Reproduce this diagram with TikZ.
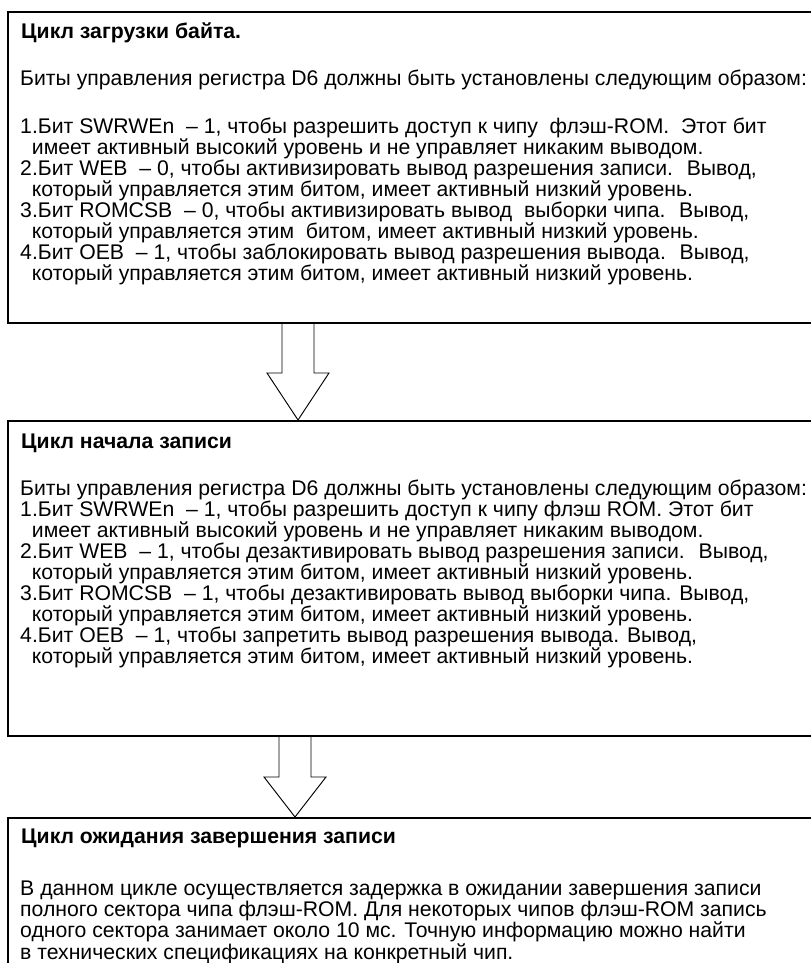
\documentclass[tikz,border=0pt]{standalone}
\usepackage{fontspec}
\setmainfont{Liberation Sans}
\usetikzlibrary{calc}
\tikzset{
  frame/.style={draw, line width=1.3pt, anchor=north west, minimum width=25cm},
  txt/.style={anchor=base west, align=left, inner sep=0pt, font=\fontsize{18.1}{18}\selectfont},
  headtxt/.style={txt, font=\fontsize{18.1}{18}\selectfont\bfseries},
  blockarrow/.style={draw, line width=0.8pt}
}
\newcommand{\ind}{\hspace*{0.55em}}
% block arrow: top point, target node, head length
\newcommand{\flowarrow}[3]{%
  \draw[blockarrow] ($(#1)+(-0.48,0)$) -- ($(#1 |- #2.north)+(-0.48,#3)$)
    -- ($(#1 |- #2.north)+(-0.93,#3)$) -- (#1 |- #2.north)
    -- ($(#1 |- #2.north)+(0.93,#3)$) -- ($(#1 |- #2.north)+(0.48,#3)$)
    -- ($(#1)+(0.48,0)$);}
\begin{document}
\begin{tikzpicture}
  \useasboundingbox (0,0) rectangle (24.33,28.89);
  \clip (0,0) rectangle (24.33,28.89);
  % boxes
  \node[frame, minimum height=9.33cm] (load) at (0.21,28.56) {};
  \node[frame, minimum height=9.45cm] (start) at (0.21,16.29) {};
  \node[frame, minimum height=6cm] (wait) at (0.21,4.38) {};
  % texts (multi-line nodes sit on their last baseline)
  \node[headtxt] (loadhead) at (0.63,27.72) {Цикл загрузки байта.};
  \node[txt] (loadintro) at (0.60,26.31) {Биты управления регистра D6 должны быть установлены следующим образом:};
  \node[txt] (loadlist) at (0.60,20.46) {1.Бит SWRWEn~ – 1, чтобы разрешить доступ к чипу~ флэш-ROM.~ Этот бит\\
    \ind имеет активный высокий уровень и не управляет никаким выводом.\\
    2.Бит WEB~ – 0, чтобы активизировать вывод разрешения записи.~ Вывод,\\
    \ind который управляется этим битом, имеет активный низкий уровень.\\
    3.Бит ROMCSB~ – 0, чтобы активизировать вывод~ выборки чипа.~ Вывод,\\
    \ind который управляется этим~ битом, имеет активный низкий уровень.\\
    4.Бит OEB~ – 1, чтобы заблокировать вывод разрешения вывода.~ Вывод,\\
    \ind который управляется этим битом, имеет активный низкий уровень.};
  \node[headtxt] (starthead) at (0.63,15.42) {Цикл начала записи};
  \node[txt] (startlist) at (0.60,8.97) {Биты управления регистра D6 должны быть установлены следующим образом:\\
    1.Бит SWRWEn~ – 1, чтобы разрешить доступ к чипу флэш ROM. Этот бит\\
    \ind имеет активный высокий уровень и не управляет никаким выводом.\\
    2.Бит WEB~ – 1, чтобы дезактивировать вывод разрешения записи.~ Вывод,\\
    \ind который управляется этим битом, имеет активный низкий уровень.\\
    3.Бит ROMCSB~ – 1, чтобы дезактивировать вывод выборки чипа. Вывод,\\
    \ind который управляется этим битом, имеет активный низкий уровень.\\
    4.Бит OEB~ – 1, чтобы запретить вывод разрешения вывода. Вывод,\\
    \ind который управляется этим битом, имеет активный низкий уровень.};
  \node[headtxt] (waithead) at (0.63,3.57) {Цикл ожидания завершения записи};
  \node[txt] (waittext) at (0.60,0.12) {В данном цикле осуществляется задержка в ожидании завершения записи\\
    полного сектора чипа флэш-ROM. Для некоторых чипов флэш-ROM запись\\
    одного сектора занимает около 10 мс. Точную информацию можно найти\\
    в технических спецификациях на конкретный чип.};
  % arrows
  \coordinate (a1) at ($(load.south west)+(8.73,0)$);
  \coordinate (a2) at ($(start.south west)+(8.64,0)$);
  \flowarrow{a1}{start}{1.41}
  \flowarrow{a2}{wait}{1.2}
\end{tikzpicture}
\end{document}
